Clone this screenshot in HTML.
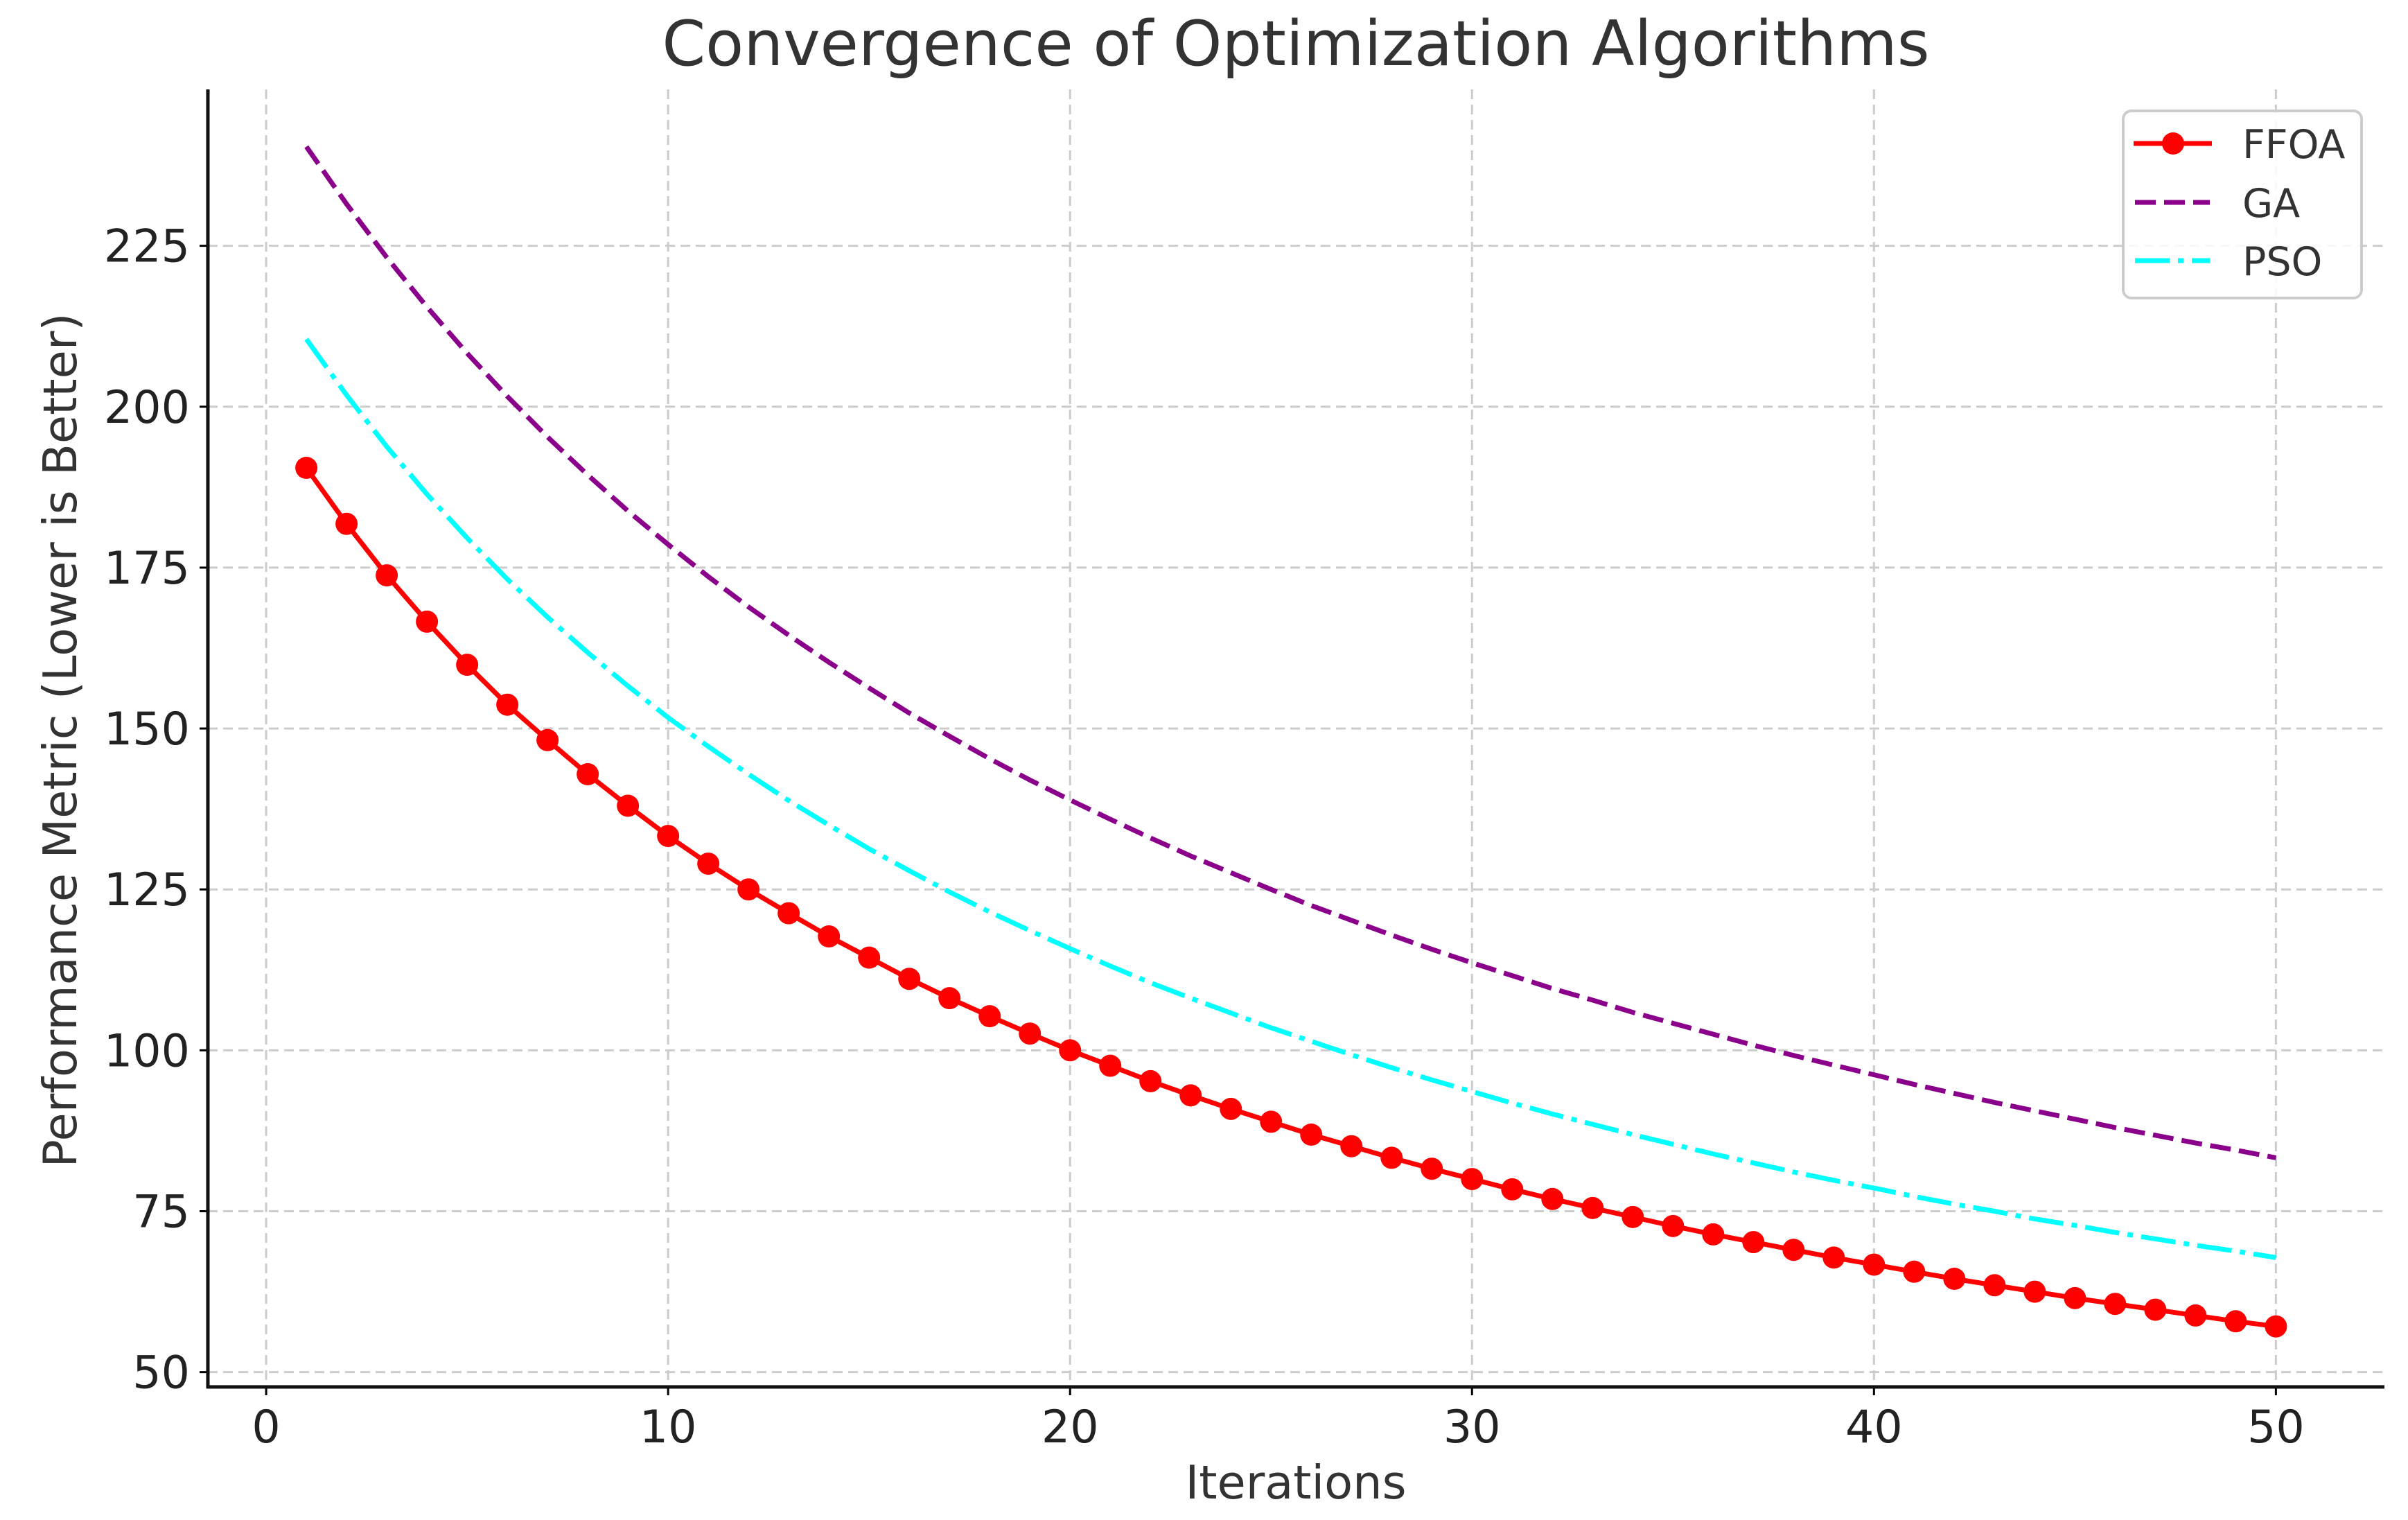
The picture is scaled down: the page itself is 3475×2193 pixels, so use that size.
<!DOCTYPE html>
<html><head><meta charset="utf-8"><style>
html,body{margin:0;padding:0;background:#fff}
svg{display:block;font-family:"DejaVu Sans","Liberation Sans",sans-serif}
</style></head><body>
<svg id="chart" width="3475" height="2193" viewBox="0 0 3475 2193" xmlns="http://www.w3.org/2000/svg">
<rect width="3475" height="2193" fill="#fff"/>
<g id="grid"></g>
<g id="series"></g>
<g id="axes"></g>
<text x="1870" y="94" font-size="90" text-anchor="middle" fill="#333">Convergence of Optimization Algorithms</text>
<text x="1870" y="2162" font-size="67" text-anchor="middle" fill="#333">Iterations</text>
<text transform="translate(110,1068) rotate(-90)" font-size="67" text-anchor="middle" fill="#333">Performance Metric (Lower is Better)</text>
<g>
<rect x="3064" y="160" width="344" height="270" rx="12" fill="#fff" fill-opacity="0.85" stroke="#ccc" stroke-width="4"/>
<g>
<line x1="3079" y1="207" x2="3192" y2="207" stroke="#ff0000" stroke-width="7"/>
<circle cx="3136" cy="207" r="16" fill="#ff0000"/>
<text x="3236" y="228" font-size="57" fill="#333">FFOA</text></g>
<g>
<line x1="3081" y1="292" x2="3189" y2="292" stroke="#8b008b" stroke-width="7" stroke-dasharray="30 12"/>
<text x="3236" y="313" font-size="57" fill="#333">GA</text></g>
<g>
<line x1="3081" y1="376" x2="3189" y2="376" stroke="#00ffff" stroke-width="7" stroke-dasharray="50 12 8 12"/>
<text x="3236" y="397" font-size="57" fill="#333">PSO</text></g>
</g>
</svg>
<script>
const iterations = Array.from({length:50},(_, i)=>i+1);
const ffoa = [190.5,181.8,173.8,166.6,159.9,153.7,148.2,142.9,138.0,133.3,129.0,125.0,121.3,117.7,114.4,111.1,108.1,105.3,102.6,100.0,97.6,95.2,93.0,90.9,88.9,86.9,85.1,83.3,81.6,80.0,78.4,76.9,75.5,74.1,72.7,71.4,70.2,69.0,67.8,66.7,65.6,64.5,63.5,62.5,61.5,60.6,59.7,58.8,57.9,57.1];
const ga = [240.4,231.5,223.2,215.5,208.3,201.6,195.3,189.4,183.8,178.6,173.6,168.9,164.5,160.3,156.3,152.4,148.8,145.3,142.0,138.9,135.9,133.0,130.2,127.6,125.0,122.5,120.2,117.9,115.7,113.6,111.6,109.6,107.8,105.9,104.2,102.5,100.8,99.2,97.7,96.2,94.7,93.3,91.9,90.6,89.3,88.0,86.8,85.6,84.5,83.3];
const pso = [210.5,201.8,193.8,186.4,179.6,173.2,167.3,161.8,156.6,151.7,147.2,142.9,138.8,135.0,131.3,127.9,124.6,121.5,118.6,115.8,113.1,110.5,108.1,105.8,103.5,101.4,99.3,97.3,95.4,93.6,91.8,90.1,88.5,86.9,85.4,83.9,82.5,81.1,79.8,78.6,77.3,76.1,75.0,73.8,72.8,71.7,70.7,69.7,68.8,67.8];
const xTicks = [0,10,20,30,40,50];
const yTicks = [50,75,100,125,150,175,200,225];

const X0=300, X1=3441, Y0=2001, Y1=129;
const xMin=-1.45, xMax=52.7, yMin=47.7, yMax=249.3;
function sx(v){return X0+(v-xMin)/(xMax-xMin)*(X1-X0);}
function sy(v){return Y0-(v-yMin)/(yMax-yMin)*(Y0-Y1);}
const NS="http://www.w3.org/2000/svg";
function mk(tag,attrs,parent){const e=document.createElementNS(NS,tag);for(const k in attrs)e.setAttribute(k,attrs[k]);parent.appendChild(e);return e;}
const grid=document.getElementById('grid'), axes=document.getElementById('axes'), series=document.getElementById('series');

xTicks.forEach(t=>{
  const g=mk('line',{x1:sx(t),x2:sx(t),y1:Y1,y2:Y0,stroke:'#cccccc','stroke-width':3,'stroke-dasharray':'14 8'},grid);
  
  
  const tk=mk('line',{x1:sx(t),x2:sx(t),y1:Y0,y2:Y0+12,stroke:'#000','stroke-width':3},axes);
  
  
  const tx=mk('text',{x:sx(t),y:Y0+80,'font-size':65,'text-anchor':'middle',fill:'#222'},axes);
  tx.textContent=t;
  
  
});
yTicks.forEach(t=>{
  const g=mk('line',{x1:X0,x2:X1,y1:sy(t),y2:sy(t),stroke:'#cccccc','stroke-width':3,'stroke-dasharray':'14 8'},grid);
  
  
  const tk=mk('line',{x1:X0-12,x2:X0,y1:sy(t),y2:sy(t),stroke:'#000','stroke-width':3},axes);
  
  
  const tx=mk('text',{x:X0-26,y:sy(t)+23,'font-size':65,'text-anchor':'end',fill:'#222'},axes);
  tx.textContent=t;
  
  
});
const ya=mk('line',{x1:X0,x2:X0,y1:Y1,y2:Y0+2,stroke:'#111','stroke-width':5},axes);


const xa=mk('line',{x1:X0-2,x2:X1,y1:Y0,y2:Y0,stroke:'#111','stroke-width':5},axes);



function pts(arr){return arr.map((v,i)=>sx(iterations[i])+','+sy(v)).join(' ');}
const gaL=mk('polyline',{points:pts(ga),fill:'none',stroke:'#8b008b','stroke-width':7,'stroke-dasharray':'30 12'},series);


const psoL=mk('polyline',{points:pts(pso),fill:'none',stroke:'#00ffff','stroke-width':7,'stroke-dasharray':'50 12 8 12'},series);


const fL=mk('polyline',{points:pts(ffoa),fill:'none',stroke:'#ff0000','stroke-width':7},series);


ffoa.forEach((v,i)=>{
  const c=mk('circle',{cx:sx(iterations[i]),cy:sy(v),r:16,fill:'#ff0000'},series);
  
  
});
</script>
</body></html>
